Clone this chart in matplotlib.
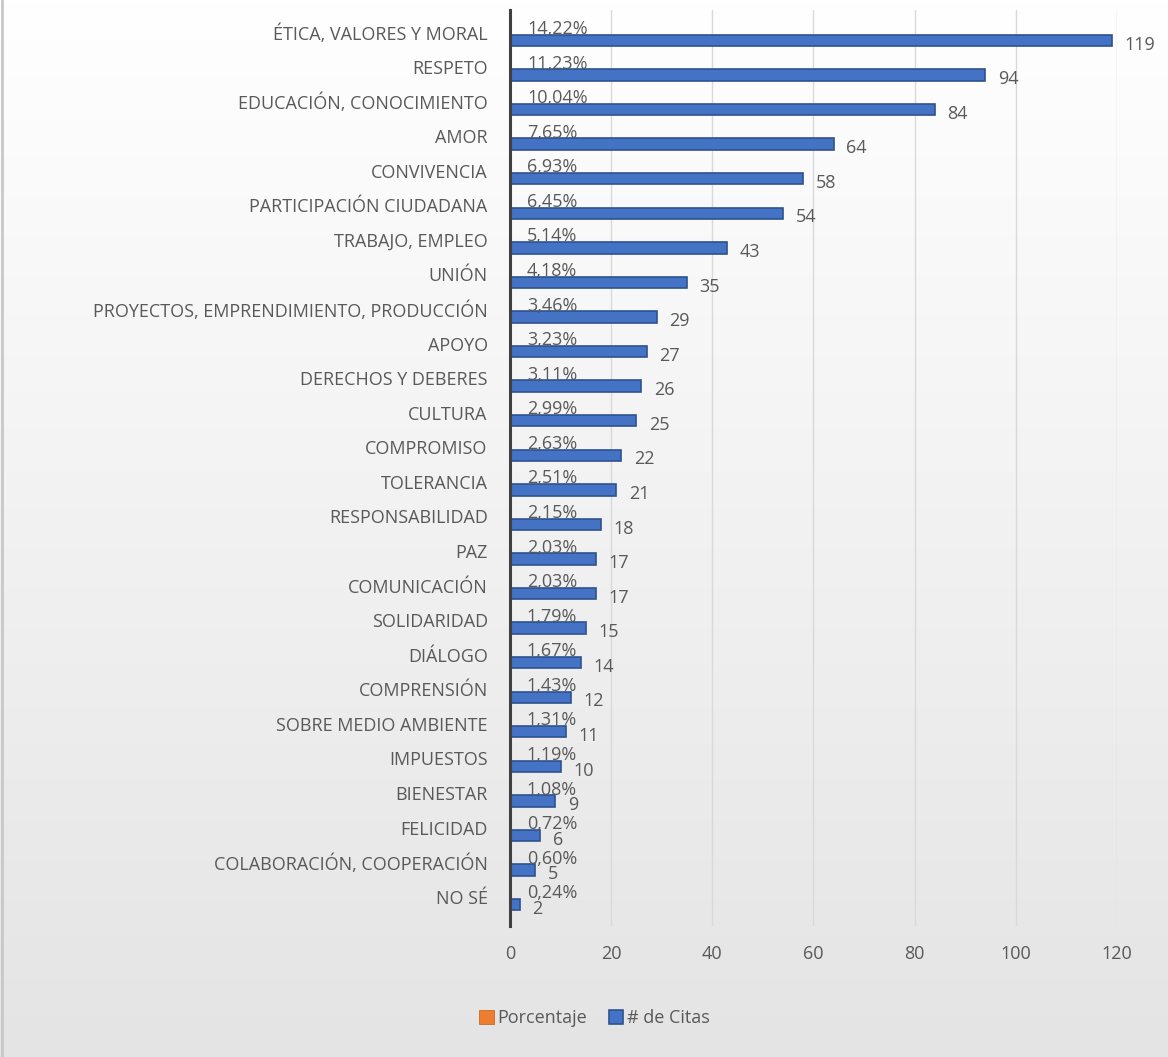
import numpy as np
import matplotlib.pyplot as plt

categorias = ['ÉTICA, VALORES Y MORAL', 'RESPETO', 'EDUCACIÓN, CONOCIMIENTO', 'AMOR',
              'CONVIVENCIA', 'PARTICIPACIÓN CIUDADANA', 'TRABAJO, EMPLEO', 'UNIÓN',
              'PROYECTOS, EMPRENDIMIENTO, PRODUCCIÓN', 'APOYO', 'DERECHOS Y DEBERES',
              'CULTURA', 'COMPROMISO', 'TOLERANCIA', 'RESPONSABILIDAD', 'PAZ',
              'COMUNICACIÓN', 'SOLIDARIDAD', 'DIÁLOGO', 'COMPRENSIÓN',
              'SOBRE MEDIO AMBIENTE', 'IMPUESTOS', 'BIENESTAR', 'FELICIDAD',
              'COLABORACIÓN, COOPERACIÓN', 'NO SÉ']
citas = [119, 94, 84, 64, 58, 54, 43, 35, 29, 27, 26, 25, 22, 21, 18, 17, 17,
         15, 14, 12, 11, 10, 9, 6, 5, 2]
porcentaje = [0.1422, 0.1123, 0.1004, 0.0765, 0.0693, 0.0645, 0.0514, 0.0418,
              0.0346, 0.0323, 0.0311, 0.0299, 0.0263, 0.0251, 0.0215, 0.0203,
              0.0203, 0.0179, 0.0167, 0.0143, 0.0131, 0.0119, 0.0108, 0.0072,
              0.0060, 0.0024]
ticks_x = [0, 20, 40, 60, 80, 100, 120]

azul = '#4472C4'
naranja = '#ED7D31'
gris_txt = '#595959'
fuente = 'Open Sans'
tam = 13

fig = plt.figure(figsize=(11.68, 10.57), dpi=100)

# fondo degradado blanco -> gris claro
bg = fig.add_axes([0, 0, 1, 1], zorder=-10)
grad = np.linspace(0, 1, 256).reshape(-1, 1)
bg.imshow(grad, aspect='auto', cmap=plt.matplotlib.colors.LinearSegmentedColormap.from_list(
    'g', ['#ffffff', '#e4e4e4']), extent=[0, 1, 0, 1], origin='upper')
bg.axvline(0.002, color='#c8c8c8', lw=2)
bg.axis('off')

ax = fig.add_axes([0.4366, 0.1239, 0.5197, 0.8666])
ax.patch.set_alpha(0)

y = np.arange(len(categorias))
h = 0.33
ax.barh(y + 0.23, citas, height=h, color=azul, edgecolor='#2F528F', lw=1.2,
        label='# de Citas', zorder=3)
ax.barh(y - 0.1, porcentaje, height=h, color=naranja, edgecolor='#C55A11', lw=0.5,
        label='Porcentaje', zorder=3)

for i in range(len(categorias)):
    ax.annotate('{:.2f}%'.format(porcentaje[i] * 100).replace('.', ','),
                (porcentaje[i], y[i] - 0.1), xytext=(12, 0), textcoords='offset points',
                ha='left', va='center', fontsize=tam, color=gris_txt, family=fuente, zorder=4)
    ax.annotate(str(citas[i]), (citas[i], y[i] + 0.23), xytext=(9, -3),
                textcoords='offset points', ha='left', va='center', fontsize=tam,
                color=gris_txt, family=fuente, zorder=4)

ax.set_xlim(0, 120)
ax.set_ylim(25.85, -0.65)
ax.set_xticks(ticks_x)
ax.set_yticks(y)
ax.set_yticklabels(categorias, family=fuente, fontsize=tam, color=gris_txt)
for t in ax.get_xticklabels():
    t.set_family(fuente)
    t.set_fontsize(tam)
    t.set_color(gris_txt)
ax.tick_params(axis='both', length=0)
ax.tick_params(axis='y', pad=16)
ax.tick_params(axis='x', pad=14)
ax.grid(axis='x', color='#d9d9d9', lw=1, zorder=0)
for s in ['top', 'right', 'bottom']:
    ax.spines[s].set_visible(False)
ax.spines['left'].set_color('#404040')
ax.spines['left'].set_linewidth(2.2)
ax.spines['left'].set_zorder(5)

handles, labels = ax.get_legend_handles_labels()
leg = fig.legend(handles[::-1], labels[::-1], loc='center', bbox_to_anchor=(0.509, 0.037),
                 ncol=2, frameon=False, handlelength=0.8, handleheight=0.8,
                 handletextpad=0.2, columnspacing=1.2, prop={'family': fuente, 'size': tam})
for t in leg.get_texts():
    t.set_color(gris_txt)

fig.savefig('out.png', dpi=100)
